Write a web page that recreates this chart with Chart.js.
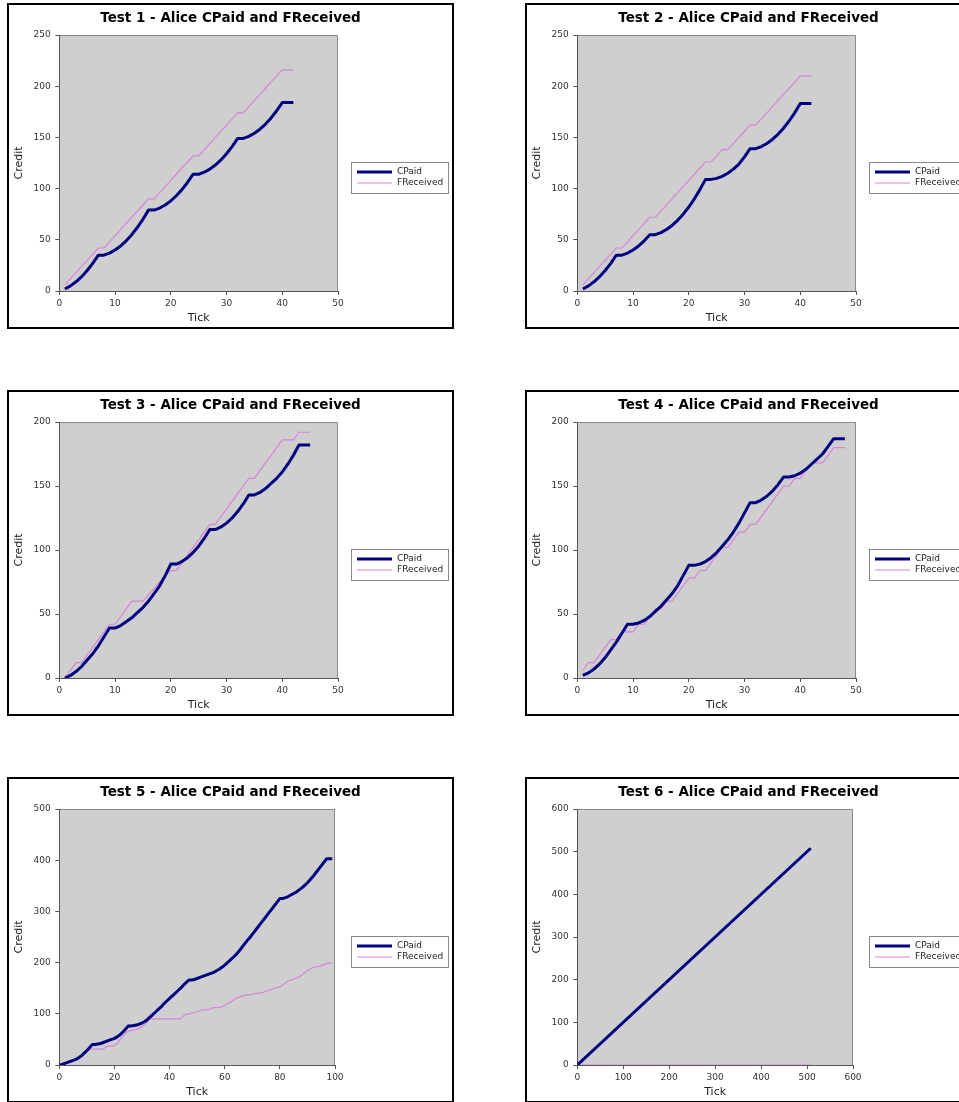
<!DOCTYPE html>
<html>
<head>
<meta charset="utf-8">
<title>Alice CPaid and FReceived</title>
<script src="https://cdn.jsdelivr.net/npm/chart.js@4.4.1/dist/chart.umd.min.js"></script>
<style>
  html, body { margin: 0; padding: 0; background: #fff; width: 959px; height: 1102px; overflow: hidden; }
  .panel { position: absolute; width: 443px; height: 322px; border: 2px solid #000; background: #fff; }
  .panel canvas { display: block; }
</style>
</head>
<body>
<div class="panel" style="left:7px;top:3px"><canvas id="c1" width="443" height="322"></canvas></div>
<div class="panel" style="left:525px;top:3px"><canvas id="c2" width="443" height="322"></canvas></div>
<div class="panel" style="left:7px;top:390px"><canvas id="c3" width="443" height="322"></canvas></div>
<div class="panel" style="left:525px;top:390px"><canvas id="c4" width="443" height="322"></canvas></div>
<div class="panel" style="left:7px;top:777px"><canvas id="c5" width="443" height="322"></canvas></div>
<div class="panel" style="left:525px;top:777px"><canvas id="c6" width="443" height="322"></canvas></div>
<script>
// ---- Test 1 ----
const test1Ticks = [1,2,3,4,5,6,7,8,9,10,11,12,13,14,15,16,17,18,19,20,21,22,23,24,25,26,27,28,29,30,31,32,33,34,35,36,37,38,39,40,41,42];
const test1CPaid = [2,5,9,14,20,27,35,35,37,40,44,49,55,62,70,79,79,81,84,88,93,99,106,114,114,116,119,123,128,134,141,149,149,151,154,158,163,169,176,184,184,184];
const test1FReceived = [6,12,18,24,30,36,42,42,48,54,60,66,72,78,84,90,90,96,102,108,114,120,126,132,132,138,144,150,156,162,168,174,174,180,186,192,198,204,210,216,216,216];

// ---- Test 2 ----
const test2Ticks = [1,2,3,4,5,6,7,8,9,10,11,12,13,14,15,16,17,18,19,20,21,22,23,24,25,26,27,28,29,30,31,32,33,34,35,36,37,38,39,40,41,42];
const test2CPaid = [2,5,9,14,20,27,35,35,37,40,44,49,55,55,57,60,64,69,75,82,90,99,109,109,110,112,115,119,124,131,139,139,141,144,148,153,159,166,174,183,183,183];
const test2FReceived = [6,12,18,24,30,36,42,42,48,54,60,66,72,72,78,84,90,96,102,108,114,120,126,126,132,138,138,144,150,156,162,162,168,174,180,186,192,198,204,210,210,210];

// ---- Test 3 ----
const test3Ticks = [1,2,3,4,5,6,7,8,9,10,11,12,13,14,15,16,17,18,19,20,21,22,23,24,25,26,27,28,29,30,31,32,33,34,35,36,37,38,39,40,41,42,43,44,45];
const test3CPaid = [0,2,5,9,14,19,25,32,39,39,41,44,47,51,55,60,66,72,80,89,89,91,94,98,103,109,116,116,118,121,125,130,136,143,143,145,148,152,156,161,167,174,182,182,182];
const test3FReceived = [0,6,12,12,18,24,30,36,42,42,48,54,60,60,60,65,70,75,80,84,84,90,96,102,108,114,120,120,126,132,138,144,150,156,156,162,168,174,180,186,186,186,192,192,192];

// ---- Test 4 ----
const test4Ticks = [1,2,3,4,5,6,7,8,9,10,11,12,13,14,15,16,17,18,19,20,21,22,23,24,25,26,27,28,29,30,31,32,33,34,35,36,37,38,39,40,41,42,43,44,45,46,47,48];
const test4CPaid = [2,4,7,11,16,22,28,35,42,42,43,45,48,52,56,61,66,72,80,88,88,89,91,94,98,103,108,114,121,129,137,137,139,142,146,151,157,157,158,160,163,167,171,175,181,187,187,187];
const test4FReceived = [6,12,12,18,24,30,30,36,36,36,42,42,48,54,54,60,60,66,72,78,78,84,84,90,96,102,102,108,114,114,120,120,126,132,138,144,150,150,156,156,162,168,168,168,174,180,180,180];

// ---- Test 5 ----
const test5Ticks = [0,1,2,3,4,5,6,7,8,9,10,11,12,13,14,15,16,17,18,19,20,21,22,23,24,25,26,27,28,29,30,31,32,33,34,35,36,37,38,39,40,41,42,43,44,45,46,47,48,49,50,51,52,53,54,55,56,57,58,59,60,61,62,63,64,65,66,67,68,69,70,71,72,73,74,75,76,77,78,79,80,81,82,83,84,85,86,87,88,89,90,91,92,93,94,95,96,97,98,99];
const test5CPaid = [0,1,3,5,7,9,11,14,18,23,28,34,40,40,41,42,44,46,48,50,52,55,59,64,70,76,76,77,78,80,82,85,89,94,99,104,109,114,120,125,130,135,140,145,150,156,161,166,166,167,169,171,173,175,177,179,181,184,187,191,195,200,205,210,215,221,228,235,242,248,255,262,269,276,283,290,297,304,311,318,325,325,327,329,332,335,338,342,346,351,356,362,368,375,382,389,396,403,403,403];
const test5FReceived = [0,1,2,4,6,8,10,13,17,22,27,30,31,31,31,31,31,36,37,37,38,42,49,56,62,66,67,68,69,72,75,80,85,90,90,90,90,90,90,90,90,90,90,90,90,96,99,99,102,102,104,106,108,108,108,110,112,112,112,114,116,120,122,126,130,132,134,136,137,137,138,140,140,141,142,144,146,148,150,151,153,156,160,164,166,168,170,172,176,180,184,188,190,192,192,194,196,198,199,199];

// ---- Test 6 ----
const test6Ticks = [0, 508];
const test6CPaid = [0, 508];
const test6FReceived = [0, 0];

const seriesNames = ['CPaid', 'FReceived'];
const seriesColors = ['#000080', '#d884d8'];
const seriesWidths = [3, 1.2];

Chart.defaults.font.family = "'DejaVu Sans', 'Bitstream Vera Sans', sans-serif";
Chart.defaults.animation = false;

// Panel chrome: grey plotting area, frame, heading and boxed legend.
const panelChrome = {
  id: 'panelChrome',
  beforeDraw(chart, args, opts) {
    const { ctx, chartArea: a } = chart;
    ctx.save();
    ctx.fillStyle = '#cfcfcf';
    ctx.fillRect(a.left, a.top, a.right - a.left, a.bottom - a.top);
    ctx.strokeStyle = '#8a8a8a';
    ctx.lineWidth = 1;
    ctx.beginPath();
    ctx.moveTo(a.left, a.top + 0.5);
    ctx.lineTo(a.right - 0.5, a.top + 0.5);
    ctx.lineTo(a.right - 0.5, a.bottom);
    ctx.stroke();
    ctx.restore();
  },
  afterDraw(chart, args, opts) {
    const { ctx, width } = chart;
    ctx.save();
    // heading
    ctx.fillStyle = '#000';
    ctx.font = "bold 13.5px 'DejaVu Sans', sans-serif";
    ctx.textAlign = 'center';
    ctx.textBaseline = 'alphabetic';
    ctx.fillText(opts.text, width / 2, 17);
    // legend, one row per series in series order
    const lx = 342, ly = 157, lw = 97, lh = 31;
    ctx.fillStyle = '#fff';
    ctx.fillRect(lx, ly, lw, lh);
    ctx.strokeStyle = '#8a8a8a';
    ctx.lineWidth = 1;
    ctx.strokeRect(lx + 0.5, ly + 0.5, lw, lh);
    ctx.font = "9px 'DejaVu Sans', sans-serif";
    ctx.textAlign = 'left';
    ctx.textBaseline = 'middle';
    chart.data.datasets.forEach((ds, i) => {
      const y = ly + 10 + i * 11;
      ctx.strokeStyle = ds.borderColor;
      ctx.lineWidth = ds.borderWidth;
      ctx.beginPath();
      ctx.moveTo(lx + 6, y);
      ctx.lineTo(lx + 41, y);
      ctx.stroke();
      ctx.fillStyle = '#222';
      ctx.fillText(ds.label, lx + 46, y);
    });
    ctx.restore();
  }
};
Chart.register(panelChrome);

function toPoints(ticks, values) {
  return ticks.map((t, i) => ({ x: t, y: values[i] }));
}

function makePanel(id, heading, ticks, cpaid, freceived, xMax, xStep, yMax, yStep, rightPad) {
  const axisTicks = { color: '#333', font: { size: 9 } };
  const grid = { drawOnChartArea: false, drawTicks: true, tickLength: 4, color: '#555' };
  new Chart(document.getElementById(id), {
    type: 'line',
    data: {
      // the first dataset (CPaid) is drawn last, so it sits on top
      datasets: [cpaid, freceived].map((vals, i) => ({
        label: seriesNames[i],
        data: toPoints(ticks, vals),
        borderColor: seriesColors[i],
        backgroundColor: seriesColors[i],
        borderWidth: seriesWidths[i],
        pointRadius: 0,
        tension: 0,
        borderJoinStyle: 'round',
        fill: false
      }))
    },
    options: {
      responsive: false,
      layout: { padding: { left: 0, top: 30, right: rightPad, bottom: 0 } },
      plugins: {
        legend: { display: false },
        title: { display: false },
        tooltip: { enabled: false },
        panelChrome: { text: heading }
      },
      scales: {
        x: {
          type: 'linear', min: 0, max: xMax,
          ticks: Object.assign({ stepSize: xStep, padding: 3, maxRotation: 0 }, axisTicks),
          grid: grid,
          border: { color: '#555', width: 1 },
          title: { display: true, text: 'Tick', color: '#222', font: { size: 11 }, padding: { top: 0, bottom: 2 } },
          afterFit: s => { s.height = 36; }
        },
        y: {
          type: 'linear', min: 0, max: yMax,
          ticks: Object.assign({ stepSize: yStep, padding: 4.5 }, axisTicks),
          grid: grid,
          border: { color: '#555', width: 1 },
          title: { display: true, text: 'Credit', color: '#222', font: { size: 11 }, padding: { top: 3.4, bottom: 0 } },
          afterFit: s => { s.width = 50.3; }
        }
      }
    }
  });
}

makePanel('c1', 'Test 1 - Alice CPaid and FReceived', test1Ticks, test1CPaid, test1FReceived, 50, 10, 250, 50, 114);
makePanel('c2', 'Test 2 - Alice CPaid and FReceived', test2Ticks, test2CPaid, test2FReceived, 50, 10, 250, 50, 114);
makePanel('c3', 'Test 3 - Alice CPaid and FReceived', test3Ticks, test3CPaid, test3FReceived, 50, 10, 200, 50, 114);
makePanel('c4', 'Test 4 - Alice CPaid and FReceived', test4Ticks, test4CPaid, test4FReceived, 50, 10, 200, 50, 114);
makePanel('c5', 'Test 5 - Alice CPaid and FReceived', test5Ticks, test5CPaid, test5FReceived, 100, 20, 500, 100, 117);
makePanel('c6', 'Test 6 - Alice CPaid and FReceived', test6Ticks, test6CPaid, test6FReceived, 600, 100, 600, 100, 117);
</script>
</body>
</html>
